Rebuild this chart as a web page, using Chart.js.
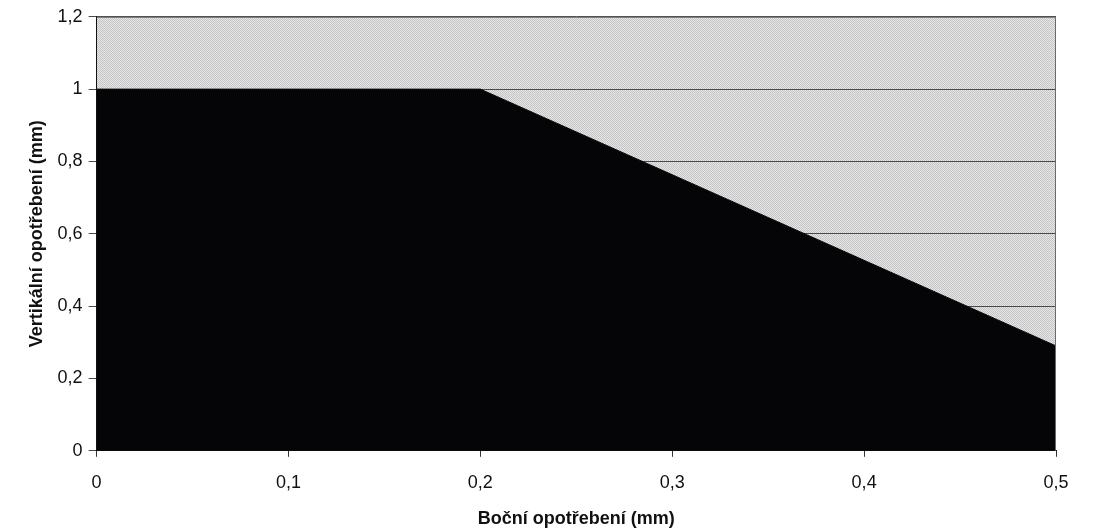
<!DOCTYPE html>
<html>
<head>
<meta charset="utf-8">
<script src="https://cdn.jsdelivr.net/npm/chart.js@4.4.0/dist/chart.umd.min.js"></script>
<style>
  html, body { margin: 0; padding: 0; background: #fff; }
  #wrap { width: 1094px; height: 530px; }
</style>
</head>
<body>
<div id="wrap"><canvas id="wearChart" width="1094" height="530"></canvas></div>
<script>
// boundary of the allowed wear area (x = lateral wear, y = vertical wear)
var sideWear = [0, 0.2, 0.5];
var vertWear = [1, 1, 0.29];
var xTicks = [0, 0.1, 0.2, 0.3, 0.4, 0.5];
var yTicks = [0, 0.2, 0.4, 0.6, 0.8, 1, 1.2];

var points = sideWear.map(function (x, i) { return { x: x, y: vertWear[i] }; });

function comma(v) {
   return String(Math.round(v * 10) / 10).replace('.', ',');
}

// halftone-like gray for the plot background
function grayPattern(ctx) {
   var c = document.createElement('canvas');
   c.width = 2; c.height = 2;
   var p = c.getContext('2d');
   p.fillStyle = '#e6e6e6'; p.fillRect(0, 0, 2, 2);
   p.fillStyle = '#c4c4c4'; p.fillRect(0, 0, 1, 1); p.fillRect(1, 1, 1, 1);
   return ctx.createPattern(c, 'repeat');
}

var plotBg = {
   id: 'plotBg',
   beforeDraw: function (chart) {
      var a = chart.chartArea, ctx = chart.ctx;
      ctx.save();
      ctx.fillStyle = grayPattern(ctx);
      ctx.fillRect(a.left, a.top, a.right - a.left, a.bottom - a.top);
      ctx.restore();
   },
   afterDraw: function (chart) {
      var a = chart.chartArea, ctx = chart.ctx;
      ctx.save();
      ctx.strokeStyle = '#6a6a6a';
      ctx.lineWidth = 1;
      ctx.beginPath();
      ctx.moveTo(a.left, a.top + 0.5);
      ctx.lineTo(a.right - 0.5, a.top + 0.5);
      ctx.lineTo(a.right - 0.5, a.bottom);
      ctx.stroke();
      ctx.restore();
   }
};

var font = { family: 'Liberation Sans, Arial, sans-serif', size: 18 };
var boldFont = { family: 'Liberation Sans, Arial, sans-serif', size: 18, weight: 'bold' };

var ctx = document.getElementById('wearChart').getContext('2d');
const wearChart = new Chart(ctx, {
   type: 'scatter',
   data: {
      datasets: [
         {
            data: points,
            showLine: true,
            borderColor: '#050508',
            borderWidth: 1,
            backgroundColor: '#050508',
            pointRadius: 0,
            fill: 'origin',
            tension: 0
         }
      ]
   },
   options: {
      responsive: false,
      animation: false,
      layout: { padding: { top: 8, right: 38, left: 26, bottom: 0 } },
      plugins: { legend: { display: false }, tooltip: { enabled: false } },
      scales: {
         x: {
            type: 'linear',
            min: 0,
            max: 0.5,
            afterBuildTicks: function (axis) { axis.ticks = xTicks.map(function (v) { return { value: v }; }); },
            ticks: { color: '#111', font: font, padding: 15, maxRotation: 0, callback: function (v) { return comma(v); } },
            grid: { drawOnChartArea: false, drawTicks: true, tickLength: 6, color: '#333' },
            border: { display: true, color: '#111' },
            title: { display: true, text: 'Boční opotřebení (mm)', color: '#111', font: boldFont, padding: { top: 0, bottom: 0 } }
         },
         y: {
            type: 'linear',
            min: 0,
            max: 1.2,
            afterBuildTicks: function (axis) { axis.ticks = yTicks.map(function (v) { return { value: v }; }); },
            ticks: { color: '#111', font: font, padding: 6, callback: function (v) { return comma(v); } },
            grid: { drawOnChartArea: true, drawTicks: true, tickLength: 8, color: '#4a4a4a', lineWidth: 1 },
            border: { display: true, color: '#111' },
            title: { display: true, text: 'Vertikální opotřebení (mm)', color: '#111', font: boldFont, padding: { top: 0, bottom: 4 } }
         }
      }
   },
   plugins: [plotBg]
});
</script>
</body>
</html>
